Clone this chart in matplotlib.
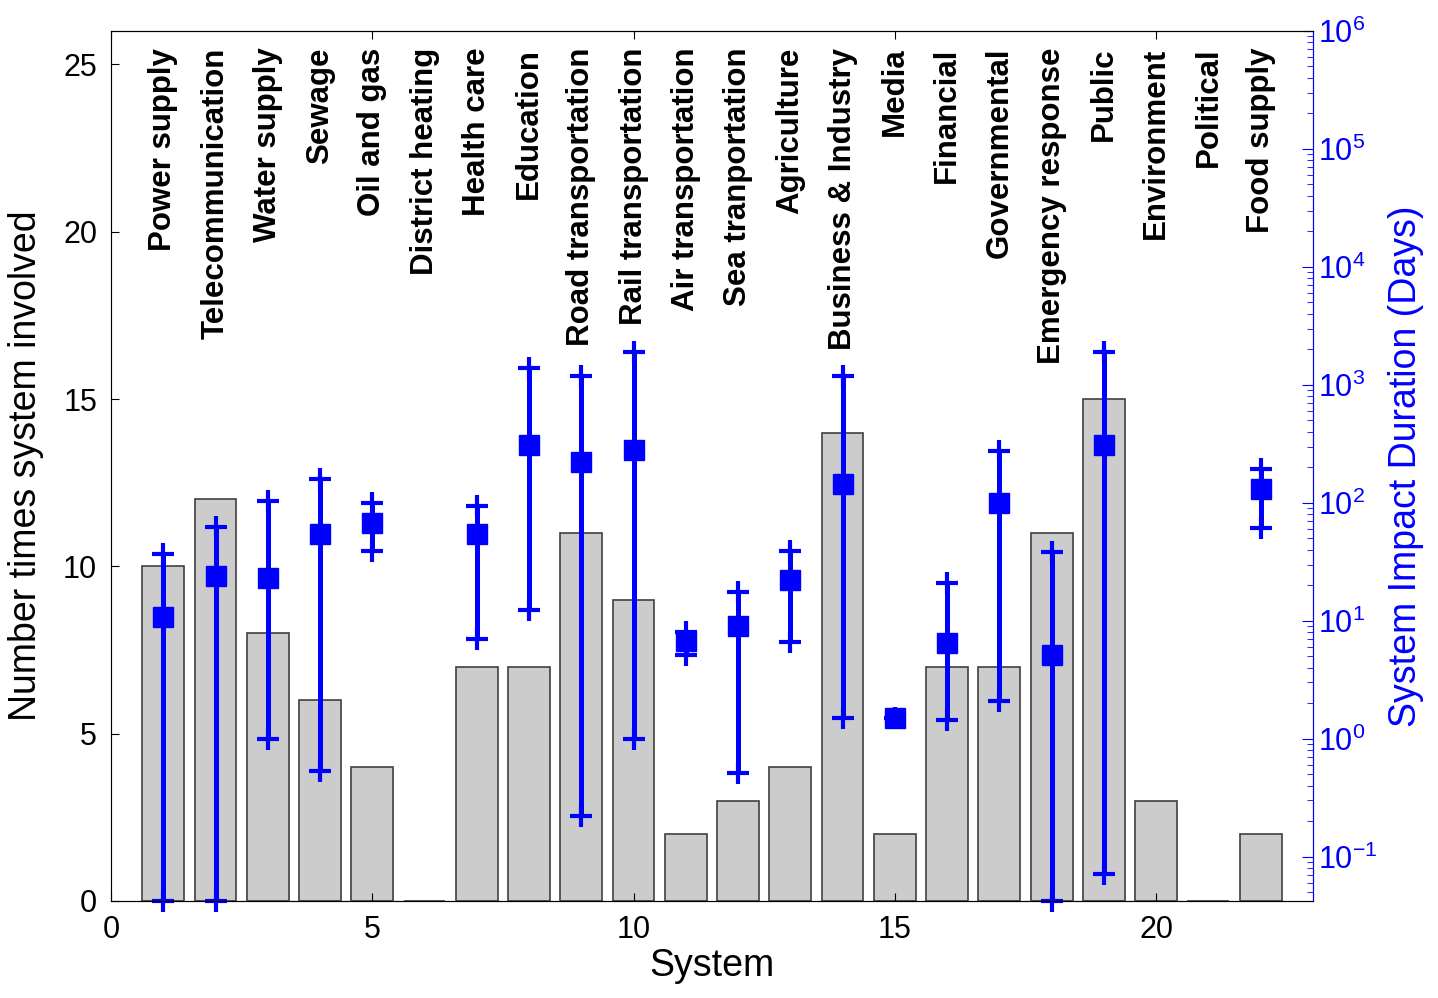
import matplotlib.pyplot as plt
import numpy as np
from matplotlib.ticker import LogLocator, NullFormatter

plt.rcParams['font.family'] = ['Liberation Sans', 'DejaVu Sans']
plt.rcParams['axes.unicode_minus'] = False

systems = ["Power supply", "Telecommunication", "Water supply", "Sewage", "Oil and gas",
           "District heating", "Health care", "Education", "Road transportation",
           "Rail transportation", "Air transportation", "Sea tranportation", "Agriculture",
           "Business & Industry", "Media", "Financial", "Governmental", "Emergency response",
           "Public", "Environment", "Political", "Food supply"]
counts = [10, 12, 8, 6, 4, 0, 7, 7, 11, 9, 2, 3, 4, 14, 2, 7, 7, 11, 15, 3, 0, 2]

# impact duration in days (typical, min, max); nan = no data
dur_mid = [10.8, 24, 23, 54, 67, np.nan, 54, 307, 220, 279, 6.8, 9.1, 22, 145, 1.5,
           6.5, 99, 5.1, 310, np.nan, np.nan, 132]
dur_min = [0.0422, 0.0422, 1.0, 0.53, 39, np.nan, 7.0, 12.4, 0.22, 1.0, 5.1, 0.51, 6.6, 1.5, 1.5,
           1.44, 2.09, 0.0422, 0.071, np.nan, np.nan, 61]
dur_max = [37, 62, 103, 160, 99, np.nan, 94, 1380, 1200, 1900, 8.1, 17.5, 39, 1200, 1.5,
           21, 274, 38, 1900, np.nan, np.nan, 194]

x = np.arange(1, len(systems) + 1)
blue = '#0000ff'

fig = plt.figure(figsize=(14.38, 9.98), dpi=100)
ax = fig.add_axes([0.0772, 0.0972, 0.8358, 0.8718])

ax.bar(x, counts, width=0.8, color='#cccccc', edgecolor='#404040', linewidth=1.2)
ax.set_xlim(0, 23)
ax.set_ylim(0, 26)
ax.set_xticks([0, 5, 10, 15, 20])
ax.set_yticks([0, 5, 10, 15, 20, 25])
ax.tick_params(direction='in', labelsize=22, length=6, top=True, pad=10)
ax.set_xlabel('System', fontsize=27, labelpad=2)
ax.set_ylabel('Number times system involved', fontsize=27, labelpad=14)
ax.spines['left'].set_color('#808080')

for xi, name in zip(x, systems):
    ax.text(xi, 25.5, name, rotation=90, ha='center', va='top',
            fontsize=22.5, fontweight='bold')

ax2 = ax.twinx()
ax2.set_yscale('log')
ax2.set_ylim(10 ** -1.375, 1e6)
mid = np.array(dur_mid)
lo = np.array(dur_min)
hi = np.array(dur_max)
ax2.errorbar(x, mid, yerr=[mid - lo, hi - mid], fmt='none', ecolor=blue,
             elinewidth=3.6, capsize=0, clip_on=False)
ax2.plot(x, lo, '+', color=blue, ms=16, mew=3, clip_on=False)
ax2.plot(x, hi, '+', color=blue, ms=16, mew=3, clip_on=False)
ax2.plot(x, mid, 's', color=blue, ms=15)

ax2.yaxis.set_major_locator(LogLocator(base=10, numticks=20))
ax2.yaxis.set_minor_locator(LogLocator(base=10, subs=np.arange(2, 10), numticks=20))
ax2.yaxis.set_minor_formatter(NullFormatter())
ax2.tick_params(axis='y', which='major', direction='in', colors=blue, labelsize=22, length=8)
ax2.tick_params(axis='y', which='minor', direction='in', colors=blue, length=4)
ax2.spines['right'].set_color(blue)
ax2.set_ylabel('System Impact Duration (Days)', fontsize=27, color=blue, labelpad=8)
ax2.xaxis.set_visible(False)

fig.savefig('out.png', dpi=100)
